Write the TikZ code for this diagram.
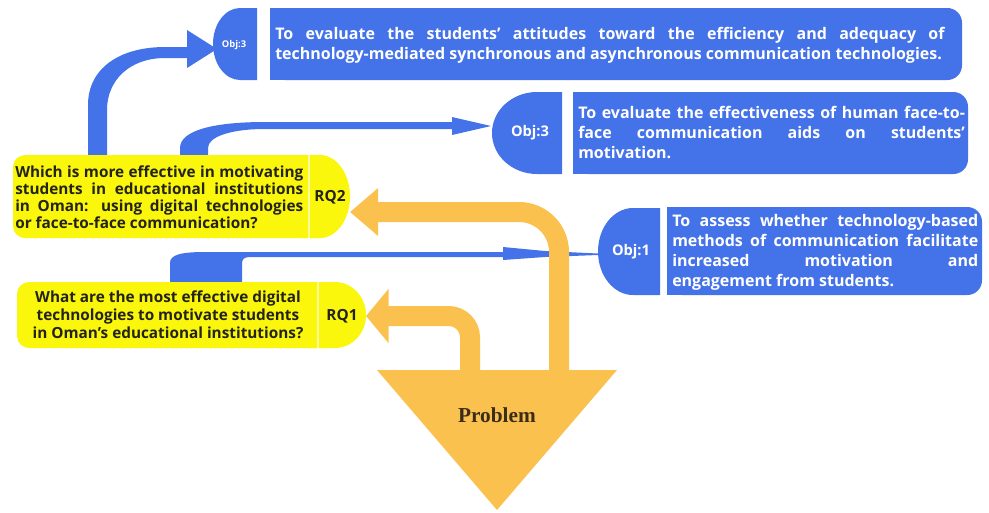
\documentclass[tikz,border=0pt]{standalone}
\usepackage{fontspec}
\setmainfont{Open Sans}
\newfontfamily\problemfont{Liberation Serif}
\usetikzlibrary{arrows.meta}
\definecolor{objblue}{RGB}{68,114,232}
\definecolor{gold}{RGB}{250,193,78}
\definecolor{rqyellow}{RGB}{250,246,12}
\definecolor{rqink}{RGB}{35,35,25}
\definecolor{probink}{RGB}{60,45,25}
% one justified line of a fixed width
\newcommand{\jl}[2]{\makebox[#1][s]{#2}}
\begin{document}
\begin{tikzpicture}[x=0.75pt,y=-0.75pt,
  objtext/.style={text=white, font=\bfseries\fontsize{12}{15}\selectfont, inner sep=0pt, align=left, anchor=west},
  rqtext/.style={text=rqink, font=\bfseries\fontsize{11.5}{12.75}\selectfont, inner sep=0pt},
  tagtext/.style={text=white, font=\bfseries\fontsize{11}{12}\selectfont, inner sep=0pt},
  rqtag/.style={text=rqink, font=\bfseries\fontsize{11.5}{12}\selectfont, inner sep=0pt},
  goldarrow/.style={draw=gold, line width=15pt},
  divider/.style={draw=white!60!rqyellow, line width=0.8pt},
]
\useasboundingbox (0,0) rectangle (989,512);

% ---------- blue connectors from the research questions ----------
\fill[objblue] (88,155) -- (88,105) .. controls (88,68) and (120,47) .. (165,47)
  -- (187,47) -- (187,30) -- (217,49) -- (187,68) -- (187,58) -- (165,58)
  .. controls (130,58) and (107,80) .. (107,110) -- (107,155) -- cycle;
\fill[objblue] (180,155) -- (180,148) .. controls (180,130) and (215,122) .. (265,122)
  -- (452,122) -- (452,117) -- (491,126) -- (452,135) -- (452,129) -- (265,129)
  .. controls (230,129) and (208,137) .. (208,148) -- (208,155) -- cycle;
\fill[objblue] (170,282) -- (170,263) .. controls (170,255) and (180,252) .. (205,252)
  -- (503,252) -- (503,247) -- (545,251) -- (598,253.5) -- (598,255) -- (545,257)
  -- (503,260) -- (503,257) -- (250,257) .. controls (244,257) and (242,259) .. (242,264)
  -- (242,282) -- cycle;

% ---------- objective boxes ----------
% top objective
\fill[objblue] (257,8) -- (240,8) arc[start angle=270, end angle=90, x radius=27, y radius=36] -- (257,80) -- cycle;
\fill[objblue, rounded corners=11pt] (270,8) rectangle (962,80);
\fill[objblue] (270,8) rectangle (300,80);
\node[tagtext, font=\bfseries\fontsize{7}{8}\selectfont] (objA) at (234,45) {Obj:3};
\node[objtext] (objAtext) at (275,45) {\jl{502pt}{To evaluate the students' attitudes toward the efficiency and adequacy of}\\technology-mediated synchronous and asynchronous communication technologies.};

% middle objective
\fill[objblue] (562,92) -- (537,92) arc[start angle=270, end angle=90, x radius=45, y radius=41] -- (562,174) -- cycle;
\fill[objblue, rounded corners=11pt] (573,92) rectangle (968,174);
\fill[objblue] (573,92) rectangle (600,174);
\node[tagtext] (objB) at (530,133) {Obj:3};
\node[objtext] (objBtext) at (578,132) {\jl{290pt}{To evaluate the effectiveness of human face-to-}\\\jl{290pt}{face communication aids on students'}\\motivation.};

% lower objective
\fill[objblue] (660,208) -- (633,208) arc[start angle=270, end angle=90, x radius=35, y radius=43.5] -- (660,295) -- cycle;
\fill[objblue, rounded corners=11pt] (667,207) rectangle (982,295);
\fill[objblue] (667,207) rectangle (690,295);
\node[tagtext] (objC) at (631,252) {Obj:1};
\node[objtext] (objCtext) at (672,252) {\jl{229.5pt}{To assess whether technology-based}\\\jl{229.5pt}{methods of communication facilitate}\\\jl{229.5pt}{increased motivation and}\\engagement from students.};

% ---------- research questions ----------
\fill[rqyellow, rounded corners=9pt] (13,155) rectangle (330,238);
\fill[rqyellow] (300,155) rectangle (320,238);
\fill[rqyellow] (320,155) arc[start angle=-90, end angle=90, x radius=30, y radius=41.5] -- (300,238) -- (300,155) -- cycle;
\draw[divider] (309,155) -- (309,238);
\node[rqtag] (rq2) at (330,197) {RQ2};
\node[rqtext, anchor=west, align=left] (rq2text) at (15,197) {\jl{216pt}{Which is more effective in motivating}\\\jl{216pt}{students in educational institutions}\\\jl{216pt}{in Oman: using digital technologies}\\or face-to-face communication?};

\fill[rqyellow, rounded corners=9pt] (17,282) rectangle (340,348);
\fill[rqyellow] (310,282) rectangle (335,348);
\fill[rqyellow] (335,282) arc[start angle=-90, end angle=90, x radius=31, y radius=33] -- (310,348) -- (310,282) -- cycle;
\draw[divider] (318,282) -- (318,348);
\node[rqtag] (rq1) at (342,316) {RQ1};
\node[rqtext, font=\bfseries\fontsize{11.5}{13.5}\selectfont, align=center] (rq1text) at (168,315) {What are the most effective digital\\technologies to motivate students\\in Oman's educational institutions?};

% ---------- problem and its arrows ----------
\coordinate (triL) at (377,370);
\coordinate (triR) at (617,370);
\coordinate (triB) at (497,510);
\coordinate (g1base) at (470,371);
\coordinate (g2base) at (559,371);
\coordinate (rq1tip) at (366,316);
\coordinate (rq2tip) at (350,212);
\draw[goldarrow, rounded corners=16pt, -{Triangle[length=17pt,width=40pt]}] (g1base) |- (rq1tip);
\draw[goldarrow, rounded corners=30pt, -{Triangle[length=21pt,width=34.5pt]}] (g2base) |- (rq2tip);
\fill[gold] (triL) -- (triR) -- (triB) -- cycle;
\node[text=probink, font=\problemfont\bfseries\fontsize{16}{18}\selectfont] (problem) at (497,415) {Problem};
\end{tikzpicture}
\end{document}
